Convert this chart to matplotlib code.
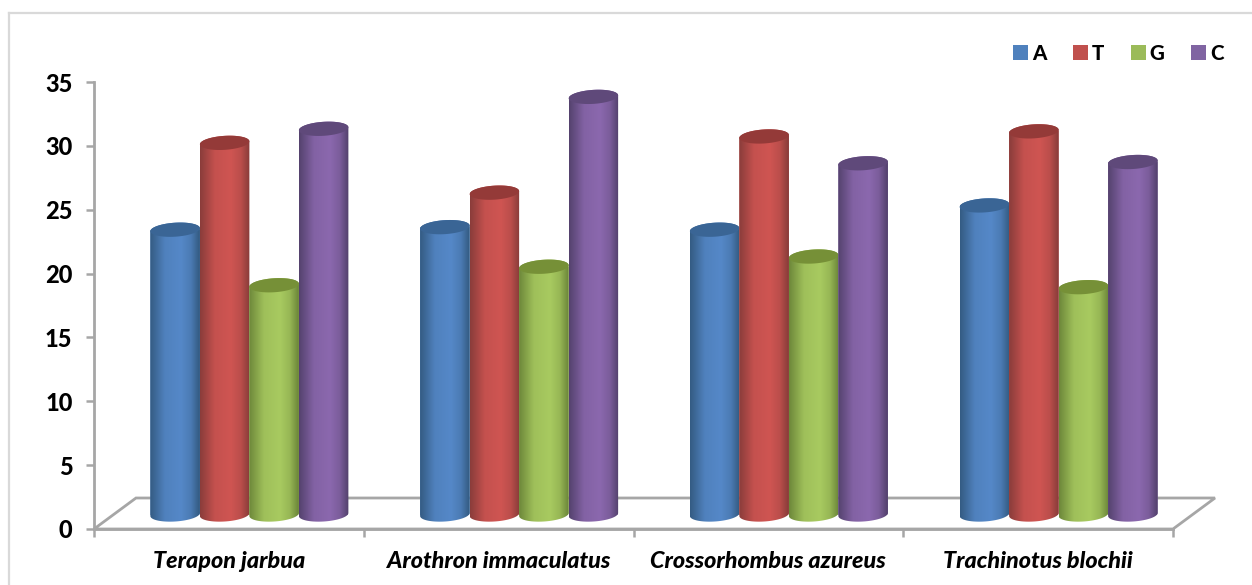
import numpy as np
import matplotlib
matplotlib.use("Agg")
import matplotlib.pyplot as plt
from matplotlib.colors import LinearSegmentedColormap
from matplotlib.lines import Line2D
from matplotlib.patches import Patch, PathPatch, Polygon
from matplotlib.path import Path

categories = ["Terapon jarbua", "Arothron immaculatus", "Crossorhombus azureus", "Trachinotus blochii"]
series_names = ["A", "T", "G", "C"]
A = [22.3, 22.5, 22.3, 24.2]
T = [29.1, 25.2, 29.6, 30.0]
G = [17.95, 19.4, 20.2, 17.8]
C = [30.2, 32.7, 27.5, 27.6]
series = [A, T, G, C]
yticks = [0, 5, 10, 15, 20, 25, 30, 35]

# (edge shade, centre highlight, top cap, legend swatch)
palette = [("#32597f", "#5588c8", "#3a6595", "#4f81bd"),
           ("#863b39", "#cf5552", "#943a38", "#c0504d"),
           ("#6a8438", "#a8ca60", "#769037", "#9bbb59"),
           ("#51406a", "#8b68ae", "#5f497a", "#8064a2")]

W, H = 1252, 585
plt.rcParams["font.family"] = ["Lato", "DejaVu Sans"]
fig = plt.figure(figsize=(W / 100, H / 100), dpi=100)
L, R, TOP, BOT = 94, 1173, 82, 529
ax = fig.add_axes([L / W, 1 - BOT / H, (R - L) / W, (BOT - TOP) / H])
ax.set_xlim(0, len(categories))
ax.set_ylim(0, 35)
ax.patch.set_alpha(0)

px_x = len(categories) / (R - L)   # data units per pixel
px_y = 35 / (BOT - TOP)

# outer frame of the chart area
for xs, ys in [((9, 9), (13, 585)), ((9, 1252), (13, 13))]:
    fig.add_artist(Line2D([x / W for x in xs], [1 - y / H for y in ys], color="#d9d9d9", lw=1.6))

# floor of the 3-D box
depth_x, depth_y = 42 * px_x, 31 * px_y
floor = Polygon([(0, 0), (len(categories), 0), (len(categories) + depth_x, depth_y), (depth_x, depth_y)],
                closed=True, fill=False, edgecolor="#a6a6a6", lw=2.0, clip_on=False, zorder=1)
ax.add_patch(floor)

# axes
for s in ["top", "right"]:
    ax.spines[s].set_visible(False)
for s in ["left", "bottom"]:
    ax.spines[s].set_color("#a6a6a6")
    ax.spines[s].set_linewidth(2.0)
ax.set_yticks(yticks)
ax.set_xticks(range(len(categories) + 1))
ax.set_xticklabels([""] * (len(categories) + 1))
ax.tick_params(axis="both", color="#a6a6a6", width=1.8, length=5.5)
ax.tick_params(axis="y", labelsize=17, pad=10)
for tl in ax.get_yticklabels():
    tl.set_fontweight("black")
for i, name in enumerate(categories):
    ax.text(i + 0.5, -32.5 * px_y, name, ha="center", va="center", fontsize=16.8,
            fontweight="black", fontstyle="italic", clip_on=False)

# cylinders
bar_w = 49.5 * px_x
a = bar_w / 2
b = 7 * px_y
skew = 1.5 * px_y
base = 14.5 * px_y
grad = np.interp(np.linspace(0, 1, 256), [0, 0.3, 0.62, 0.82, 1], [0.05, 0.85, 1, 0.72, 0]).reshape(1, -1)

def arc(cx, cy, t0, t1):
    tt = np.linspace(t0, t1, 50)
    return np.column_stack([cx + a * np.cos(tt), cy + b * np.sin(tt) + skew * np.cos(tt)])

z = 3
for j, vals in enumerate(series):
    edge, mid, cap, swatch = palette[j]
    cmap = LinearSegmentedColormap.from_list(f"c{j}", [edge, mid])
    xpos = [i + 0.5 + (j - 1.5) * bar_w + (depth_x / 2 - 0.5 * px_x) for i in range(len(categories))]
    rects = ax.bar(xpos, vals, width=bar_w, bottom=base, color=swatch, zorder=z, linewidth=0)
    for cx, v, rect in zip(xpos, vals, rects):
        top = base + v
        # body: upper half of the top ellipse + lower half of the bottom ellipse
        pts = np.vstack([arc(cx, top, 0, np.pi), arc(cx, base, np.pi, 2 * np.pi)])
        clip = PathPatch(Path(np.vstack([pts, pts[0]]), closed=True), transform=ax.transData,
                         facecolor="none", edgecolor="none")
        ax.add_patch(clip)
        rect.set_clip_path(clip)
        img = ax.imshow(grad, cmap=cmap, vmin=0, vmax=1, aspect="auto",
                        extent=[cx - a, cx + a, base - 2 * b, top + 2 * b], zorder=z + 0.1)
        img.set_clip_path(clip)
        ax.add_patch(Polygon(arc(cx, top, 0, 2 * np.pi), closed=True, facecolor=cap,
                             edgecolor="none", zorder=z + 0.2, clip_on=False))
    z += 1

ax.set_xlim(0, len(categories))
ax.set_ylim(0, 35)

handles = [Patch(facecolor=p[3], label=n) for p, n in zip(palette, series_names)]
leg = fig.legend(handles=handles, ncol=4, frameon=False, loc="center left",
                 bbox_to_anchor=(1013 / W, 1 - 53 / H), prop={"size": 14.8, "weight": "black"},
                 handlelength=0.72, handleheight=0.72, handletextpad=0.2, columnspacing=1.3,
                 borderpad=0, borderaxespad=0)

fig.savefig("out.png", dpi=100, facecolor="white")
